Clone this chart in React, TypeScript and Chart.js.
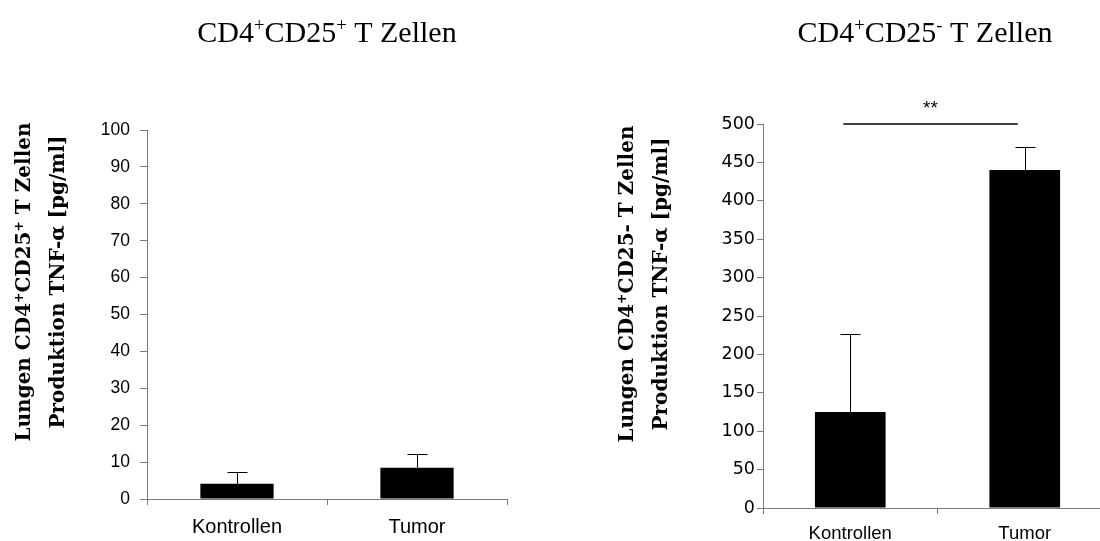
import { useEffect, useRef } from 'react';
import { Chart, registerables } from 'chart.js';

Chart.register(...registerables);

// ---- data ----
const categories = ['Kontrollen', 'Tumor'];

// CD4+CD25+ T cells, TNF-alpha [pg/ml]: mean and upper error
const cd25PosMeans = [4.1, 8.5];
const cd25PosErrors = [3.1, 3.6];

// CD4+CD25- T cells, TNF-alpha [pg/ml]: mean and upper error
const cd25NegMeans = [125, 440];
const cd25NegErrors = [101, 30];

// y axis ranges
const cd25PosAxis = { min: 0, max: 100, step: 10 };
const cd25NegAxis = { min: 0, max: 500, step: 50 };

// significance marker between the two groups of the CD25- panel
const cd25NegSignificance = { from: 0, to: 1, value: 500, label: '**' };

type Seg = { t: string; sup?: boolean };

const posTitle: Seg[] = [{ t: 'CD4' }, { t: '+', sup: true }, { t: 'CD25' }, { t: '+', sup: true }, { t: ' T Zellen' }];
const negTitle: Seg[] = [{ t: 'CD4' }, { t: '+', sup: true }, { t: 'CD25' }, { t: '-', sup: true }, { t: ' T Zellen' }];

const posYTitle: Seg[][] = [
  [{ t: 'Lungen CD4' }, { t: '+', sup: true }, { t: 'CD25' }, { t: '+', sup: true }, { t: ' T Zellen' }],
  [{ t: 'Produktion TNF-α [pg/ml]' }],
];
const negYTitle: Seg[][] = [
  [{ t: 'Lungen CD4' }, { t: '+', sup: true }, { t: 'CD25- T Zellen' }],
  [{ t: 'Produktion TNF-α [pg/ml]' }],
];

const AXIS_GRAY = '#7a7a7a';
const SANS = '"Liberation Sans", Arial, sans-serif';
const SERIF = '"Liberation Serif", "Times New Roman", serif';
const BOLD_SERIF = '"DejaVu Serif", serif';

// draws a run of text with superscript pieces, centred on x
function drawRich(ctx: CanvasRenderingContext2D, segs: Seg[], x: number, y: number, size: number, family: string, weight: string) {
  const supSize = size * 0.62;
  const fontFor = (s: Seg) => `${weight} ${s.sup ? supSize : size}px ${family}`;
  let total = 0;
  const widths = segs.map((s) => {
    ctx.font = fontFor(s);
    const w = ctx.measureText(s.t).width;
    total += w;
    return w;
  });
  let cx = x - total / 2;
  ctx.textAlign = 'left';
  ctx.textBaseline = 'alphabetic';
  segs.forEach((s, i) => {
    ctx.font = fontFor(s);
    ctx.fillText(s.t, cx, s.sup ? y - size * 0.36 : y);
    cx += widths[i];
  });
}

type PanelCfg = {
  title: Seg[];
  titleX: number;
  yTitle: Seg[][];
  yTitleX: number[];
  yTitleY: number;
  yTitleSize: number;
  errors: number[];
  capWidth: number;
  significance?: { from: number; to: number; value: number; label: string };
};

function makeOverlay(cfg: PanelCfg) {
  return {
    id: 'panelOverlay',
    afterDatasetsDraw(chart: Chart) {
      const ctx = chart.ctx;
      const xScale = chart.scales.x;
      const yScale = chart.scales.y;
      const meta = chart.getDatasetMeta(0);
      const values = chart.data.datasets[0].data as number[];

      // upper error bars with caps
      ctx.save();
      ctx.strokeStyle = '#000';
      ctx.lineWidth = 1;
      meta.data.forEach((el: any, i: number) => {
        const x = Math.round(el.x) + 0.5;
        const yBase = yScale.getPixelForValue(values[i]);
        const yTop = Math.round(yScale.getPixelForValue(values[i] + cfg.errors[i])) + 0.5;
        ctx.beginPath();
        ctx.moveTo(x, yBase);
        ctx.lineTo(x, yTop);
        ctx.moveTo(x - cfg.capWidth / 2, yTop);
        ctx.lineTo(x + cfg.capWidth / 2, yTop);
        ctx.stroke();
      });
      ctx.restore();

      // significance bar
      if (cfg.significance) {
        const s = cfg.significance;
        const x1 = xScale.getPixelForValue(s.from) - 7;
        const x2 = xScale.getPixelForValue(s.to) - 7;
        const y = yScale.getPixelForValue(s.value);
        ctx.save();
        ctx.strokeStyle = '#000';
        ctx.lineWidth = 1.5;
        ctx.beginPath();
        ctx.moveTo(x1, y);
        ctx.lineTo(x2, y);
        ctx.stroke();
        ctx.fillStyle = '#000';
        ctx.font = `19px ${SANS}`;
        ctx.textAlign = 'center';
        ctx.textBaseline = 'alphabetic';
        ctx.fillText(s.label, (x1 + x2) / 2, y - 10);
        ctx.restore();
      }

      // panel title
      ctx.save();
      ctx.fillStyle = '#000';
      drawRich(ctx, cfg.title, cfg.titleX, 42, 30, SERIF, 'normal');
      ctx.restore();

      // rotated y axis title
      cfg.yTitle.forEach((line, i) => {
        ctx.save();
        ctx.fillStyle = '#000';
        ctx.translate(cfg.yTitleX[i], cfg.yTitleY);
        ctx.rotate(-Math.PI / 2);
        drawRich(ctx, line, 0, cfg.yTitleSize * 0.3, cfg.yTitleSize, BOLD_SERIF, 'bold');
        ctx.restore();
      });
    },
  };
}

type AxisCfg = {
  means: number[];
  axis: { min: number; max: number; step: number };
  padding: { top: number; right: number };
  yWidth: number;
  xHeight: number;
  barFraction: number;
  yTickFont: { family: string; size: number };
  yTickPad: number;
  yTickLen: number;
  xTickFont: { family: string; size: number };
  xTickPad: number;
};

function buildChart(canvas: HTMLCanvasElement, a: AxisCfg, panel: PanelCfg) {
  return new Chart(canvas, {
    type: 'bar',
    data: {
      labels: categories,
      datasets: [
        {
          data: a.means,
          backgroundColor: '#000',
          borderWidth: 0,
          barPercentage: a.barFraction,
          categoryPercentage: 1,
        },
      ],
    },
    options: {
      responsive: false,
      animation: false,
      devicePixelRatio: 1,
      layout: { padding: { top: a.padding.top, right: a.padding.right, left: 0, bottom: 0 } },
      plugins: {
        legend: { display: false },
        title: { display: false },
        tooltip: { enabled: false },
      },
      scales: {
        x: {
          offset: true,
          grid: { offset: true, drawOnChartArea: false, color: AXIS_GRAY, tickLength: 6 },
          border: { color: AXIS_GRAY, width: 1 },
          ticks: { color: '#000', font: a.xTickFont, padding: a.xTickPad, maxRotation: 0 },
          afterFit: (s: any) => {
            s.height = a.xHeight;
          },
        },
        y: {
          min: a.axis.min,
          max: a.axis.max,
          grid: { drawOnChartArea: false, color: AXIS_GRAY, tickLength: a.yTickLen },
          border: { color: AXIS_GRAY, width: 1 },
          ticks: { stepSize: a.axis.step, color: '#000', font: a.yTickFont, padding: a.yTickPad },
          afterFit: (s: any) => {
            s.width = a.yWidth;
          },
        },
      },
    },
    plugins: [makeOverlay(panel)],
  });
}

export default function App() {
  const posRef = useRef<HTMLCanvasElement>(null);
  const negRef = useRef<HTMLCanvasElement>(null);

  useEffect(() => {
    const pos = buildChart(
      posRef.current!,
      {
        means: cd25PosMeans,
        axis: cd25PosAxis,
        padding: { top: 130, right: 43 },
        yWidth: 147,
        xHeight: 42,
        barFraction: 0.407,
        yTickFont: { family: SANS, size: 17.5 },
        yTickPad: 10,
        yTickLen: 7,
        xTickFont: { family: SANS, size: 20 },
        xTickPad: 10,
      },
      {
        title: posTitle,
        titleX: 327,
        yTitle: posYTitle,
        yTitleX: [24, 58],
        yTitleY: 282,
        yTitleSize: 20,
        errors: cd25PosErrors,
        capWidth: 20,
      }
    );
    const neg = buildChart(
      negRef.current!,
      {
        means: cd25NegMeans,
        axis: cd25NegAxis,
        padding: { top: 124, right: 0 },
        yWidth: 213,
        xHeight: 33,
        barFraction: 0.405,
        yTickFont: { family: '"DejaVu Sans", sans-serif', size: 17.5 },
        yTickPad: 2,
        yTickLen: 6,
        xTickFont: { family: SANS, size: 18.5 },
        xTickPad: 9,
      },
      {
        title: negTitle,
        titleX: 375,
        yTitle: negYTitle,
        yTitleX: [77, 111],
        yTitleY: 284,
        yTitleSize: 20,
        errors: cd25NegErrors,
        capWidth: 20,
        significance: cd25NegSignificance,
      }
    );
    return () => {
      pos.destroy();
      neg.destroy();
    };
  }, []);

  return (
    <div style={{ position: 'fixed', left: 0, top: 0, width: 1100, height: 541, overflow: 'hidden', background: '#fff' }}>
      <canvas ref={posRef} width={550} height={541} style={{ position: 'absolute', left: 0, top: 0, width: 550, height: 541 }} />
      <canvas ref={negRef} width={562} height={541} style={{ position: 'absolute', left: 550, top: 0, width: 562, height: 541 }} />
    </div>
  );
}
